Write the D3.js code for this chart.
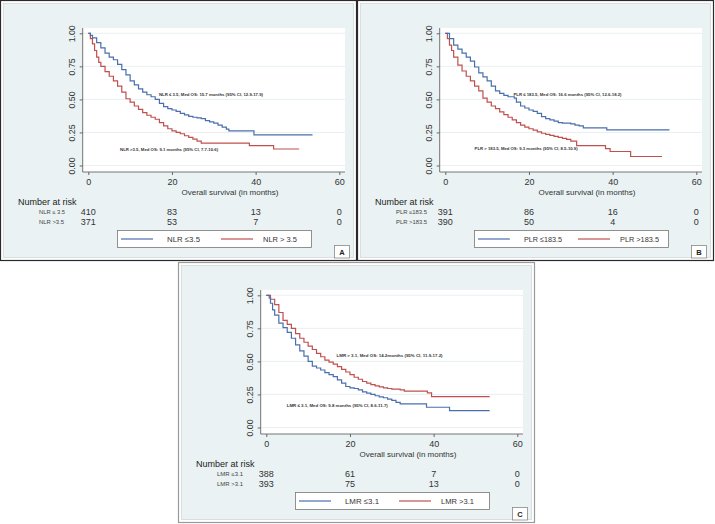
<!DOCTYPE html>
<html lang="en">
<head>
<meta charset="UTF-8">
<title>Kaplan-Meier panels</title>
<script src="https://d3js.org/d3.v7.min.js"></script>
<style>
  body { margin: 0; background: #fff; }
  svg text { font-family: "Liberation Sans", Arial, sans-serif; }
</style>
</head>
<body>
<script>
// ticks and risk time points
var xTicks = [0, 20, 40, 60];
var yTicks = [0, 0.25, 0.5, 0.75, 1];
var riskTimes = [0, 20, 40, 60];

// Panel A - NLR  [months, survival]
var nlrLow = [[0,1],[0.5,0.985],[1,0.965],[2,0.93],[3,0.89],[4,0.85],[5,0.82],[6,0.80],[7,0.765],[8,0.725],[9,0.685],[10,0.64],[11,0.61],[12,0.58],[13,0.555],[14,0.535],[15,0.52],[16,0.50],[17,0.47],[18,0.445],[19,0.43],[20,0.42],[21,0.41],[22,0.395],[23,0.383],[24,0.372],[25,0.365],[26,0.36],[27,0.355],[28,0.34],[29,0.33],[30,0.32],[31,0.305],[32,0.29],[33,0.275],[33.6,0.262],[39.6,0.232],[53.6,0.232]];
var nlrHigh = [[0,1],[0.5,0.96],[1,0.92],[1.5,0.87],[2,0.82],[2.5,0.78],[3,0.75],[4,0.71],[5,0.675],[6,0.64],[7,0.60],[8,0.555],[9,0.505],[10,0.48],[11,0.45],[12,0.425],[13,0.40],[14,0.38],[15,0.365],[16,0.35],[17,0.325],[18,0.30],[19,0.278],[20,0.262],[21,0.25],[22,0.24],[23,0.225],[24,0.212],[25,0.2],[26,0.185],[27,0.17],[38.5,0.151],[44.3,0.125],[50.4,0.125]];
var nlrRiskLow = [410, 83, 13, 0];
var nlrRiskHigh = [371, 53, 7, 0];

// Panel B - PLR
var plrLow = [[0,1],[1,0.96],[2,0.91],[3,0.88],[4,0.85],[5,0.82],[6,0.79],[7,0.745],[8,0.70],[9,0.67],[10,0.64],[11,0.60],[12,0.565],[13,0.545],[14,0.53],[15,0.52],[16.5,0.51],[17,0.48],[18,0.45],[19,0.435],[20,0.42],[21,0.41],[22,0.395],[23,0.37],[24,0.355],[25,0.345],[26,0.335],[27,0.325],[28,0.32],[30,0.315],[31,0.305],[32,0.30],[33,0.285],[38.6,0.27],[53.6,0.27]];
var plrHigh = [[0,1],[0.5,0.96],[1,0.91],[1.5,0.87],[2,0.82],[3,0.76],[4,0.715],[5,0.675],[6,0.64],[7,0.60],[8,0.565],[9,0.51],[10,0.48],[11,0.45],[12,0.43],[13,0.405],[14,0.385],[15,0.365],[16,0.345],[17,0.325],[18,0.305],[19,0.29],[20,0.278],[21,0.268],[22,0.255],[23,0.244],[24,0.235],[25,0.228],[26,0.22],[27,0.212],[28,0.205],[29,0.198],[30,0.185],[31.4,0.151],[38.3,0.128],[39.4,0.106],[44.3,0.068],[51.8,0.068]];
var plrRiskLow = [391, 86, 16, 0];
var plrRiskHigh = [390, 50, 4, 0];

// Panel C - LMR
var lmrLow = [[0,1],[0.7,0.98],[1,0.94],[1.5,0.89],[2,0.85],[3,0.79],[4,0.755],[5,0.72],[6,0.675],[7,0.625],[8,0.58],[9,0.54],[10,0.50],[11,0.465],[12,0.45],[13,0.435],[14,0.415],[15,0.40],[16,0.385],[17,0.36],[18,0.335],[19,0.31],[20,0.30],[21,0.295],[22,0.285],[23,0.27],[24,0.26],[25,0.25],[26,0.24],[27,0.232],[28,0.225],[29,0.215],[30,0.205],[31,0.19],[32,0.178],[38.3,0.153],[43.8,0.127],[53.4,0.127]];
var lmrHigh = [[0,1],[1,0.97],[2,0.93],[3,0.87],[4,0.81],[5,0.78],[6,0.75],[7,0.71],[8,0.675],[9,0.645],[10,0.615],[11,0.59],[12,0.56],[13,0.535],[14,0.51],[15,0.495],[16,0.48],[17,0.46],[18,0.44],[19,0.42],[20,0.40],[21,0.38],[22,0.365],[23,0.348],[24,0.335],[25,0.325],[26,0.315],[27,0.308],[28,0.30],[29,0.295],[30,0.29],[32,0.285],[33,0.275],[38.5,0.262],[39.5,0.234],[53.4,0.234]];
var lmrRiskLow = [388, 61, 7, 0];
var lmrRiskHigh = [393, 75, 13, 0];

var blue = "#4a6fad";
var red = "#c0504d";

var panels = [
    { letter: "A", dx: 0, dy: 0, border: "#2a2a2a",
      low: nlrLow, high: nlrHigh, riskLow: nlrRiskLow, riskHigh: nlrRiskHigh,
      rowLow: "NLR \u2264 3.5", rowHigh: "NLR >3.5", rowW: [26, 25],
      legLow: "NLR \u22643.5", legHigh: "NLR > 3.5", legW: [33, 34],
      noteBlue: { text: "NLR \u2264 3.5, Med OS: 15.7 months (95% CI, 12.9-17.9)", t: 16.9, s: 0.523, w: 104 },
      noteRed: { text: "NLR >3.5, Med OS: 9.1 months (95% CI, 7.7-10.6)", t: 7.6, s: 0.107, w: 98 } },
    { letter: "B", dx: 357, dy: 0, border: "#2a2a2a",
      low: plrLow, high: plrHigh, riskLow: plrRiskLow, riskHigh: plrRiskHigh,
      rowLow: "PLR \u2264183.5", rowHigh: "PLR >183.5", rowW: [31, 31],
      legLow: "PLR \u2264183.5", legHigh: "PLR >183.5", legW: [38, 39],
      noteBlue: { text: "PLR \u2264 183.5, Med OS: 16.6 months (95% CI, 12.6-18.2)", t: 16.3, s: 0.523, w: 108 },
      noteRed: { text: "PLR > 183.5, Med OS: 9.3 months (95% CI, 8.5-10.9)", t: 7.0, s: 0.114, w: 103 } },
    { letter: "C", dx: 178, dy: 262, border: "#9a9a9a",
      low: lmrLow, high: lmrHigh, riskLow: lmrRiskLow, riskHigh: lmrRiskHigh,
      rowLow: "LMR \u22643.1", rowHigh: "LMR >3.1", rowW: [26, 26],
      legLow: "LMR \u22643.1", legHigh: "LMR >3.1", legW: [34, 33],
      noteBlue: { text: "LMR \u2264 3.1, Med OS: 9.8 months (95% CI, 8.6-11.7)", t: 4.9, s: 0.156, w: 101 },
      noteRed: { text: "LMR > 3.1, Med OS: 14.2months (95% CI, 11.9-17.2)", t: 16.8, s: 0.533, w: 106 } }
];

var W = 715, H = 524;
var pw = 356, ph = 260;

var svg = d3.select("body").append("svg")
    .attr("width", W)
    .attr("height", H);

svg.append("rect").attr("width", W).attr("height", H).attr("fill", "#fff");

var x = d3.scaleLinear().domain([0, 60]).range([88.3, 339.3]);
var y = d3.scaleLinear().domain([0, 1]).range([165.5, 33.3]);

var line = d3.line()
    .x(function (d) { return x(d[0]); })
    .y(function (d) { return y(d[1]); })
    .curve(d3.curveStepAfter);

panels.forEach(function (p) {
    var g = svg.append("g").attr("transform", "translate(" + p.dx + "," + p.dy + ")");

    // frame + graph region
    g.append("rect")
        .attr("x", 0.5).attr("y", 0.5).attr("width", pw).attr("height", ph)
        .attr("fill", "#fff").attr("stroke", p.border).attr("stroke-width", 1.2);
    g.append("rect")
        .attr("x", 3.5).attr("y", 3.5).attr("width", pw - 6).attr("height", ph - 6)
        .attr("fill", "#eaf2f3").attr("stroke", "#cdd5d7").attr("stroke-width", 0.7);

    // plot region
    g.append("rect")
        .attr("x", 82.7).attr("y", 28).attr("width", 345 - 82.7).attr("height", 172 - 28)
        .attr("fill", "#fff");

    g.selectAll(".grid")
        .data(yTicks)
        .enter()
        .append("line")
        .attr("x1", 82.7).attr("x2", 345)
        .attr("y1", function (d) { return y(d); })
        .attr("y2", function (d) { return y(d); })
        .attr("stroke", "#e3ecee").attr("stroke-width", 0.8);

    // axes
    var xAxis = g.append("g")
        .attr("transform", "translate(0,172)")
        .call(d3.axisBottom(x).tickValues(xTicks).tickSize(3).tickPadding(4));
    xAxis.select(".domain").remove();
    xAxis.selectAll("line").attr("stroke", "#666");
    xAxis.selectAll("text").attr("font-size", 9).attr("fill", "#333")
        .attr("font-family", "Liberation Sans, Arial, sans-serif");

    var yAxis = g.append("g")
        .attr("transform", "translate(82.7,0)")
        .call(d3.axisLeft(y).tickValues(yTicks).tickSize(3).tickFormat(d3.format(".2f")));
    yAxis.select(".domain").remove();
    yAxis.selectAll("line").attr("stroke", "#666");
    yAxis.selectAll("text")
        .attr("x", null).attr("dy", null)
        .attr("text-anchor", "middle")
        .attr("transform", "translate(-7.5,0) rotate(-90)")
        .attr("font-size", 8.8).attr("fill", "#333")
        .attr("font-family", "Liberation Sans, Arial, sans-serif");

    g.append("line").attr("x1", 82.7).attr("x2", 82.7).attr("y1", 28).attr("y2", 172)
        .attr("stroke", "#666").attr("stroke-width", 0.9);
    g.append("line").attr("x1", 82.7).attr("x2", 345).attr("y1", 172).attr("y2", 172)
        .attr("stroke", "#666").attr("stroke-width", 0.9);

    g.append("text")
        .attr("x", 230).attr("y", 195)
        .attr("text-anchor", "middle")
        .attr("font-size", 8).attr("fill", "#333")
        .text("Overall survival (in months)");

    // curves
    g.append("path").datum(p.high)
        .attr("d", line).attr("fill", "none")
        .attr("stroke", red).attr("stroke-width", 1.2);
    g.append("path").datum(p.low)
        .attr("d", line).attr("fill", "none")
        .attr("stroke", blue).attr("stroke-width", 1.2);

    // median annotations
    [p.noteBlue, p.noteRed].forEach(function (n) {
        g.append("text")
            .attr("x", x(n.t)).attr("y", y(n.s))
            .attr("font-size", 4.4).attr("font-weight", "bold").attr("fill", "#333")
            .attr("textLength", n.w).attr("lengthAdjust", "spacingAndGlyphs")
            .text(n.text);
    });

    // number at risk
    g.append("text")
        .attr("x", 18).attr("y", 205.3)
        .attr("font-size", 9).attr("fill", "#222")
        .text("Number at risk");

    var rows = [
        { label: p.rowLow, w: p.rowW[0], vals: p.riskLow, yy: 212 },
        { label: p.rowHigh, w: p.rowW[1], vals: p.riskHigh, yy: 222 }
    ];
    rows.forEach(function (r) {
        g.append("text")
            .attr("x", 39).attr("y", r.yy + 2)
            .attr("font-family", "Lato, 'Open Sans', sans-serif")
            .attr("font-size", 5.6).attr("fill", "#444")
            .attr("textLength", r.w).attr("lengthAdjust", "spacingAndGlyphs")
            .text(r.label);
        g.selectAll(null)
            .data(r.vals)
            .enter()
            .append("text")
            .attr("x", function (d, i) { return x(riskTimes[i]); })
            .attr("y", r.yy + 3.3)
            .attr("text-anchor", "middle")
            .attr("font-size", 9).attr("fill", "#333")
            .text(function (d) { return d; });
    });

    // legend
    var lg = g.append("g");
    lg.append("rect")
        .attr("x", 117.5).attr("y", 230.5).attr("width", 194).attr("height", 17)
        .attr("fill", "#fff").attr("stroke", "#777").attr("stroke-width", 0.8);
    lg.append("line").attr("x1", 121).attr("x2", 153).attr("y1", 239).attr("y2", 239)
        .attr("stroke", blue).attr("stroke-width", 1.2);
    lg.append("line").attr("x1", 221).attr("x2", 253).attr("y1", 239).attr("y2", 239)
        .attr("stroke", red).attr("stroke-width", 1.2);
    lg.append("text").attr("x", 167).attr("y", 241.8)
        .attr("font-family", "Lato, 'Open Sans', sans-serif")
        .attr("font-size", 8).attr("fill", "#333")
        .attr("textLength", p.legW[0]).attr("lengthAdjust", "spacingAndGlyphs")
        .text(p.legLow);
    lg.append("text").attr("x", 263).attr("y", 241.8)
        .attr("font-family", "Lato, 'Open Sans', sans-serif")
        .attr("font-size", 8).attr("fill", "#333")
        .attr("textLength", p.legW[1]).attr("lengthAdjust", "spacingAndGlyphs")
        .text(p.legHigh);

    // panel letter
    g.append("rect")
        .attr("x", 334.5).attr("y", 245.5).attr("width", 15).attr("height", 12.5)
        .attr("fill", "#fff").attr("stroke", "#888").attr("stroke-width", 0.8);
    g.append("text")
        .attr("x", 342).attr("y", 254.6)
        .attr("text-anchor", "middle")
        .attr("font-family", "Lato, 'Open Sans', sans-serif")
        .attr("font-size", 7.5).attr("font-weight", "bold").attr("fill", "#222")
        .text(p.letter);
});
</script>
</body>
</html>
